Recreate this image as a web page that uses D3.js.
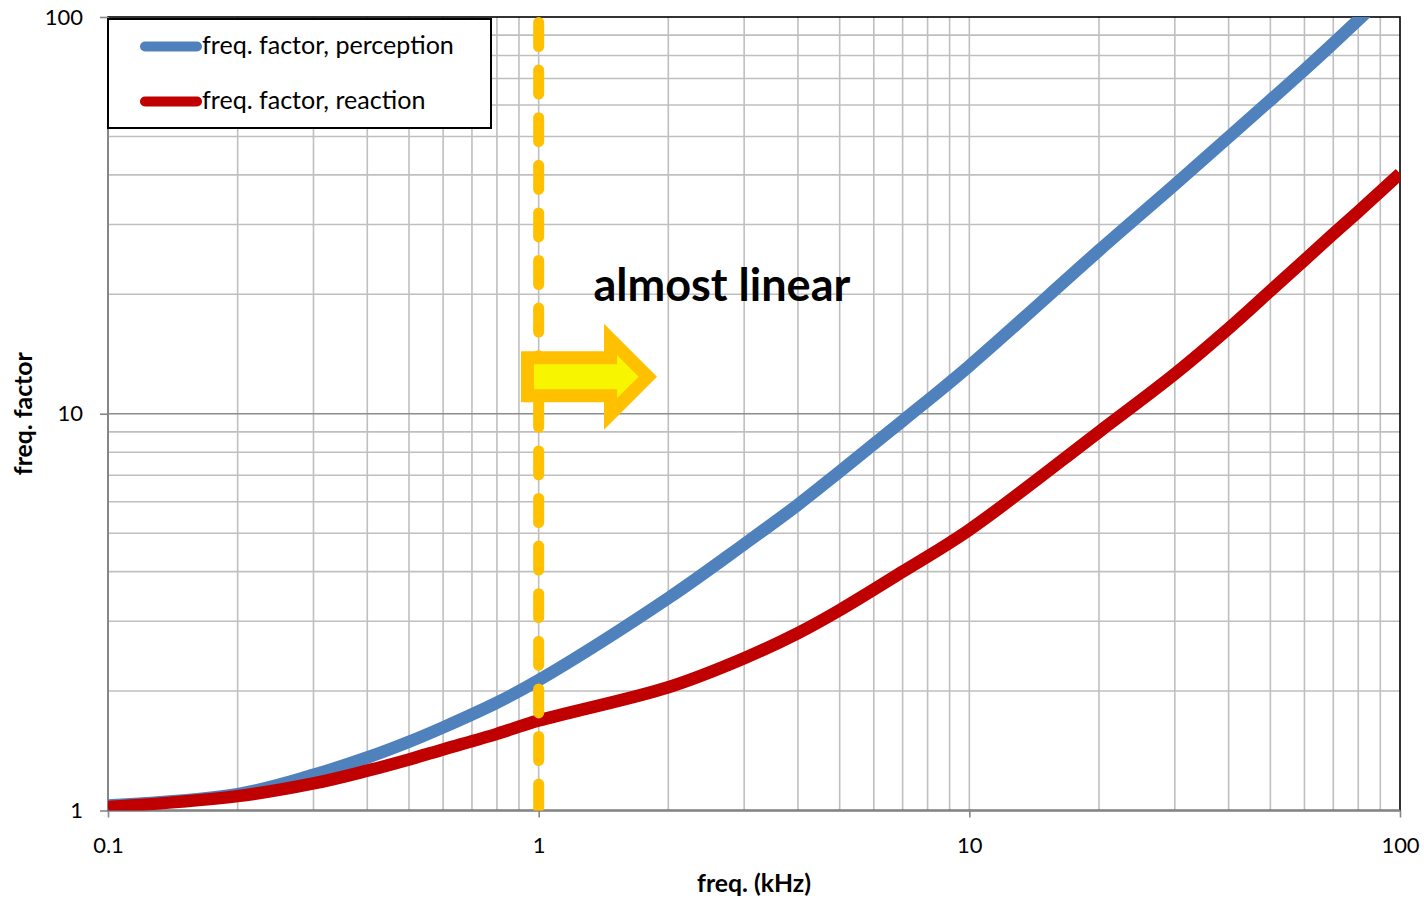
<!DOCTYPE html>
<html>
<head>
<meta charset="utf-8">
<script src="https://cdn.jsdelivr.net/npm/d3@7"></script>
<style>
  html, body { margin: 0; padding: 0; background: #fff; }
  svg { display: block; }
  text { font-family: Lato, "Open Sans", "Noto Sans", sans-serif; fill: #000; }
</style>
</head>
<body>
<svg id="chart" width="1424" height="901"></svg>
<script>
// Frequency factor vs. frequency (log-log)
const freqPerception = [0.1, 0.2, 0.3, 0.4, 0.5, 0.6, 0.8, 1, 2, 3, 4, 5, 7, 10, 20, 30, 40, 50, 60, 70, 80, 90];
const factorPerception = [1.03, 1.10, 1.23, 1.36, 1.49, 1.62, 1.87, 2.13, 3.43, 4.69, 5.9, 7.15, 9.6, 13.2, 25.8, 37.8, 49.8, 61.7, 73.6, 85.8, 98.3, 110.8];

const freqReaction = [0.1, 0.2, 0.3, 0.4, 0.5, 0.6, 0.8, 1, 2, 3, 4, 5, 7, 10, 20, 30, 40, 50, 60, 70, 80, 90, 100];
const factorReaction = [1.02, 1.087, 1.17, 1.26, 1.345, 1.425, 1.56, 1.685, 2.045, 2.42, 2.8, 3.2, 4.0, 5.1, 9.0, 12.6, 16.4, 20.4, 24.4, 28.4, 32.3, 36.3, 40.3];

const seriesNames = ["freq. factor, perception", "freq. factor, reaction"];
const seriesColors = ["#4F81BD", "#C00000"];

const xTickValues = [0.1, 1, 10, 100];
const xTickLabels = ["0.1", "1", "10", "100"];
const yTickValues = [1, 10, 100];
const yTickLabels = ["1", "10", "100"];

const xTitle = "freq. (kHz)";
const yTitle = "freq. factor";
const noteText = "almost linear";
const markerFreq = 1;            // dashed boundary at 1 kHz
const noteAnchor = [1.34, 19.2]; // text start (kHz, factor)
const arrowAnchor = [0.91, 12.4]; // arrow tail (kHz, factor)

const svg = d3.select("#chart");
const plot = { left: 108, right: 1400, top: 17, bottom: 810.5 };

const x = d3.scaleLog().domain([0.1, 100]).range([plot.left, plot.right]);
const y = d3.scaleLog().domain([1, 100]).range([plot.bottom, plot.top]);

// helper: scale a text's font-size so it spans a given width
function fitWidth(sel, width) {
  const node = sel.node();
  const cur = parseFloat(sel.attr("font-size"));
  const w = node.getComputedTextLength();
  const size = cur * width / w;
  sel.attr("font-size", size);
  return size;
}

svg.append("defs").append("clipPath").attr("id", "plotClip")
  .append("rect")
  .attr("x", plot.left).attr("y", plot.top)
  .attr("width", plot.right - plot.left).attr("height", plot.bottom - plot.top);

// gridlines
const grid = svg.append("g");
const isMajor = v => Math.abs(Math.log10(v) - Math.round(Math.log10(v))) < 1e-9;

grid.selectAll("line.vx")
  .data(x.ticks().filter(v => v > 0.1 && v < 100))
  .join("line")
  .attr("x1", d => x(d)).attr("x2", d => x(d))
  .attr("y1", plot.top).attr("y2", plot.bottom)
  .attr("stroke", "#BFBFBF").attr("stroke-width", 1.6);

grid.selectAll("line.hy")
  .data(y.ticks().filter(v => v > 1 && v < 100))
  .join("line")
  .attr("x1", plot.left).attr("x2", plot.right)
  .attr("y1", d => y(d)).attr("y2", d => y(d))
  .attr("stroke", d => isMajor(d) ? "#8C8C8C" : "#BFBFBF")
  .attr("stroke-width", 1.6);

// plot border (top/right)
svg.append("rect")
  .attr("x", plot.left).attr("y", plot.top)
  .attr("width", plot.right - plot.left).attr("height", plot.bottom - plot.top)
  .attr("fill", "none").attr("stroke", "#000").attr("stroke-width", 1.6);

// axes
const xAxis = d3.axisBottom(x).tickValues(xTickValues).tickFormat((d, i) => xTickLabels[i]).tickSize(7).tickPadding(20);
const yAxis = d3.axisLeft(y).tickValues(yTickValues).tickFormat((d, i) => yTickLabels[i]).tickSize(8).tickPadding(17);

const gx = svg.append("g").attr("transform", `translate(0,${plot.bottom})`).call(xAxis);
const gy = svg.append("g").attr("transform", `translate(${plot.left},0)`).call(yAxis);
[gx, gy].forEach(g => {
  g.select(".domain").attr("stroke", "#868686").attr("stroke-width", 2);
  g.selectAll(".tick line").attr("stroke", "#868686").attr("stroke-width", 1.6);
  g.selectAll(".tick text").attr("font-family", null).attr("fill", "#000");
});
gx.select(".domain").attr("d", `M${plot.left},0H${plot.right}`);
gy.select(".domain").attr("d", `M0,${plot.bottom}V${plot.top}`);

// tick label size: "10" spans about 25px
const probe = svg.append("text").attr("font-size", 20).text("10");
const tickSize = fitWidth(probe, 25.5);
probe.remove();
gx.selectAll(".tick text").attr("font-size", tickSize).attr("dy", "0.71em");
gy.selectAll(".tick text").attr("font-size", tickSize);

// curves
const line = d3.line().x(d => x(d[0])).y(d => y(d[1])).curve(d3.curveCatmullRom.alpha(0.5));
const curves = svg.append("g").attr("clip-path", "url(#plotClip)");
const series = [
  d3.zip(freqPerception, factorPerception),
  d3.zip(freqReaction, factorReaction)
];
curves.selectAll("path")
  .data(series)
  .join("path")
  .attr("d", line)
  .attr("fill", "none")
  .attr("stroke", (d, i) => seriesColors[i])
  .attr("stroke-width", 12.5)
  .attr("stroke-linejoin", "round");

// dashed boundary at 1 kHz
svg.append("g").attr("clip-path", "url(#plotClip)")
  .append("line")
  .attr("x1", x(markerFreq)).attr("x2", x(markerFreq))
  .attr("y1", y(100)).attr("y2", y(1))
  .attr("stroke", "#FFC000").attr("stroke-width", 11)
  .attr("stroke-linecap", "round")
  .attr("stroke-dasharray", "24 23.6")
  .attr("stroke-dashoffset", -5.5);

// block arrow
const ax = x(arrowAnchor[0]), ay = y(arrowAnchor[1]);
const outer = [[0, -25.5], [83, -25.5], [83, -53], [136, 0], [83, 53], [83, 25.5], [0, 25.5]];
const inner = [[13, -12.5], [96, -12.5], [96, -21.6], [117.6, 0], [96, 21.6], [96, 12.5], [13, 12.5]];
const arrow = svg.append("g").attr("transform", `translate(${ax},${ay})`);
arrow.append("polygon").attr("points", outer.map(p => p.join(",")).join(" ")).attr("fill", "#FFC000");
arrow.append("polygon").attr("points", inner.map(p => p.join(",")).join(" ")).attr("fill", "#F7F500");

// annotation
const note = svg.append("text")
  .attr("x", x(noteAnchor[0])).attr("y", y(noteAnchor[1]))
  .attr("font-size", 40).attr("font-weight", 700)
  .text(noteText);
fitWidth(note, 257);

// axis titles
const xt = svg.append("text")
  .attr("x", (plot.left + plot.right) / 2).attr("y", 892)
  .attr("text-anchor", "middle").attr("font-size", 20).attr("font-weight", 700)
  .text(xTitle);
fitWidth(xt, 114);

const yt = svg.append("text")
  .attr("transform", `translate(32,${y(10)}) rotate(-90)`)
  .attr("text-anchor", "middle").attr("font-size", 20).attr("font-weight", 700)
  .text(yTitle);
fitWidth(yt, 123);

// legend
const legend = svg.append("g");
legend.append("rect")
  .attr("x", 108).attr("y", 19).attr("width", 383).attr("height", 109)
  .attr("fill", "#fff").attr("stroke", "#000").attr("stroke-width", 2);
const rows = legend.selectAll("g.row")
  .data(seriesNames)
  .join("g")
  .attr("transform", (d, i) => `translate(0,${46.5 + i * 55})`);
rows.append("line")
  .attr("x1", 145).attr("x2", 197)
  .attr("stroke", (d, i) => seriesColors[i])
  .attr("stroke-width", 10).attr("stroke-linecap", "round");
const labels = rows.append("text")
  .attr("x", 202).attr("y", 7.5)
  .attr("font-size", 20)
  .text(d => d);
const legendSize = fitWidth(d3.select(labels.nodes()[0]), 252);
labels.attr("font-size", legendSize);
</script>
</body>
</html>
